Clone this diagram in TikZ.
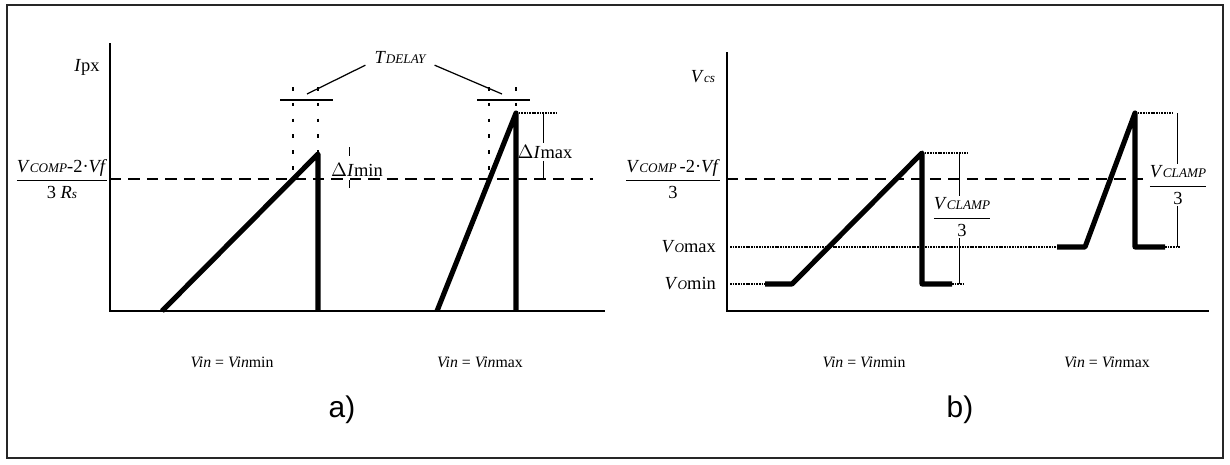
\documentclass[tikz,border=0pt]{standalone}
\usepackage{fontspec}
\setmainfont{Liberation Serif}
\setsansfont{Liberation Sans}
\usetikzlibrary{positioning,calc}
\definecolor{framegray}{RGB}{38,38,38}
\tikzset{
  plotframe/.style={draw=framegray, line width=1.4pt},
  plotaxis/.style={draw=black, line width=1.3pt},
  plotwave/.style={draw=black, line width=2.9pt, line join=round},
  plotref/.style={draw=black, line width=1.2pt, dash pattern=on 6.5pt off 4pt},
  plotdot/.style={draw=black, line width=1pt, dash pattern=on 1pt off 0.5pt},
  plotdrop/.style={draw=black, line width=0.6pt, dash pattern=on 2pt off 7pt},
  plotdim/.style={draw=black, line width=0.5pt},
  plotbar/.style={draw=black, line width=1pt},
  plotlbl/.style={font=\fontsize{10.5}{12}\selectfont, inner sep=1pt},
  plotvin/.style={font=\fontsize{9}{10}\selectfont, inner sep=1pt},
  plotcap/.style={font=\fontsize{17}{20}\sffamily, inner sep=1pt},
}
\newcommand{\smc}[1]{{\fontsize{7.5}{8}\selectfont\itshape #1}}
\newcommand{\vcomp}{\textit{V}\smc{COMP}}

\begin{document}
\begin{tikzpicture}[x=0.02cm,y=-0.02cm]
  \useasboundingbox (0,0) rectangle (1230,464);
  \draw[plotframe] (7,5) rectangle (1223,458);

  % ---- a) peak current
  \coordinate (aY) at (110,43);
  \coordinate (aO) at (110,311);
  \coordinate (aX) at (605,311);
  \draw[plotaxis] (aY) -- (aO) -- (aX);
  \coordinate (aRefL) at (110,179);
  \coordinate (aRefR) at (593,179);
  \draw[plotref] (aRefL) -- (aRefR);

  \coordinate (aS1) at (162,311);
  \coordinate (aP1) at (318,154);
  \coordinate (aE1) at (318,311);
  \coordinate (aS2) at (437,311);
  \coordinate (aP2) at (516,113);
  \coordinate (aE2) at (516,311);
  \draw[plotwave] (aS1) -- (aP1) -- (aE1);
  \draw[plotwave] (aS2) -- (aP2) -- (aE2);

  \node[plotlbl] (ipx) at (87,67) {\textit{I}px};
  \node[plotlbl] (arefl) at (62,179)
    {$\displaystyle\frac{\mbox{\vcomp-2·\textit{Vf}}}{\mbox{3 \textit{R}\smc{s}}}$};

  % delay marks
  \node[plotlbl] (tdelay) at (400,57) {\textit{T}\smc{DELAY}};
  \coordinate (aBar1L) at (280,100);
  \coordinate (aBar1R) at (333,100);
  \coordinate (aBar2L) at (477,100);
  \coordinate (aBar2R) at (530,100);
  \draw[plotbar] (aBar1L) -- (aBar1R);
  \draw[plotbar] (aBar2L) -- (aBar2R);
  \coordinate (aLead1) at (307,94);
  \coordinate (aLead2) at (502,94);
  \draw[plotdim, line width=0.7pt] ([xshift=-4pt]tdelay.south west) -- (aLead1);
  \draw[plotdim, line width=0.7pt] ([xshift=4pt]tdelay.south east) -- (aLead2);
  \draw[plotdrop] (293,87) -- (293,179);
  \draw[plotdrop] (318,87) -- (aP1);
  \draw[plotdrop] (489,87) -- (489,179);
  \draw[plotdrop] (516,87) -- (aP2);

  % delta I
  \node[plotlbl] (dimin) at (357,170) {$\Delta$\textit{I}min};
  \draw[plotdim] (349,147) -- (349,156);
  \draw[plotdim] (349,180) -- (349,188);
  \draw[plotdot] (aP2) -- (558,113);
  \node[plotlbl] (dimax) at (545,152) {$\Delta$\textit{I}max};
  \draw[plotdim] (543,113) -- (dimax.north -| 543,0);
  \draw[plotdim] (dimax.south -| 543,0) -- (543,179);

  \node[plotvin] (avmin) at (232,362) {\textit{Vin} = \textit{Vin}min};
  \node[plotvin] (avmax) at (480,362) {\textit{Vin} = \textit{Vin}max};
  \node[plotcap] (capa) at (342,410) {a)};

  % ---- b) current sense voltage
  \coordinate (bY) at (727,52);
  \coordinate (bO) at (727,311);
  \coordinate (bX) at (1209,311);
  \draw[plotaxis] (bY) -- (bO) -- (bX);
  \coordinate (bRefL) at (727,179);
  \coordinate (bRefR) at (1143,179);
  \draw[plotref] (bRefL) -- (bRefR);
  \draw[plotdot] (730,247) -- (1057,247);
  \draw[plotdot] (730,284) -- (765,284);

  \coordinate (bH1) at (765,284);
  \coordinate (bS1) at (792,284);
  \coordinate (bP1) at (922,153);
  \coordinate (bE1) at (922,284);
  \coordinate (bT1) at (952,284);
  \draw[plotwave] (bH1) -- (bS1) -- (bP1) -- (bE1) -- (bT1);
  \draw[plotdot] (bP1) -- (967,153);
  \draw[plotdot] (bT1) -- (965,284);

  \coordinate (bH2) at (1057,247);
  \coordinate (bS2) at (1085,247);
  \coordinate (bP2) at (1135,113);
  \coordinate (bE2) at (1135,247);
  \coordinate (bT2) at (1165,247);
  \draw[plotwave] (bH2) -- (bS2) -- (bP2) -- (bE2) -- (bT2);
  \draw[plotdot] (bP2) -- (1172,113);
  \draw[plotdot] (bT2) -- (1180,247);

  \node[plotlbl] (vcs) at (703,77) {\textit{V}\smc{cs}};
  \node[plotlbl] (brefl) at (673,179)
    {$\displaystyle\frac{\mbox{\vcomp\,-2·\textit{Vf}}}{\mbox{3}}$};
  \node[plotlbl, anchor=east] (vomax) at (718,247) {\textit{V}\smc{O}max};
  \node[plotlbl, anchor=east] (vomin) at (718,284) {\textit{V}\smc{O}min};

  \node[plotlbl] (clamp1) at (962,217)
    {$\displaystyle\frac{\mbox{\textit{V}\smc{CLAMP}}}{\mbox{3}}$};
  \draw[plotdim] (959,153) -- (clamp1.north -| 959,0);
  \draw[plotdim] (clamp1.south -| 959,0) -- (959,284);
  \node[plotlbl] (clamp2) at (1178,185)
    {$\displaystyle\frac{\mbox{\textit{V}\smc{CLAMP}}}{\mbox{3}}$};
  \draw[plotdim] (1177,113) -- (clamp2.north -| 1177,0);
  \draw[plotdim] (clamp2.south -| 1177,0) -- (1177,247);

  \node[plotvin] (bvmin) at (864,362) {\textit{Vin} = \textit{Vin}min};
  \node[plotvin] (bvmax) at (1107,362) {\textit{Vin} = \textit{Vin}max};
  \node[plotcap] (capb) at (960,410) {b)};
\end{tikzpicture}
\end{document}
